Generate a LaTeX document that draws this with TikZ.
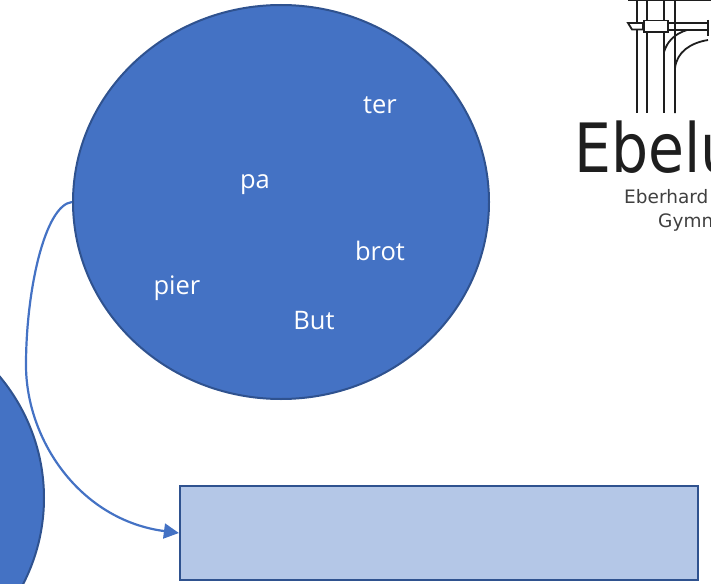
\documentclass[tikz,border=0pt]{standalone}
\usepackage{fontspec}
\setmainfont{Open Sans}
\newfontfamily\logoface[FakeStretch=0.86]{DejaVu Sans}
\newfontfamily\logosubface{DejaVu Sans}
\usetikzlibrary{arrows.meta,shapes.geometric}
\definecolor{fillblue}{HTML}{4472C4}
\definecolor{edgeblue}{HTML}{2F528F}
\definecolor{paleblue}{HTML}{B4C7E7}
\definecolor{logoink}{HTML}{1E1E1E}
\tikzset{
  bubble/.style={ellipse,draw=edgeblue,fill=fillblue,line width=2pt,inner sep=0pt,minimum width=416pt,minimum height=394pt},
  word/.style={text=white,font=\fontsize{25.5}{27}\selectfont,inner sep=0pt},
  logoline/.style={draw=logoink,line width=1.8pt},
  logotext/.style={anchor=base west,inner sep=0pt},
  link/.style={draw=fillblue,line width=2.2pt,-{Triangle[length=15pt,width=15pt]}}
}
\begin{document}
\begin{tikzpicture}[x=1pt,y=-1pt]
\useasboundingbox (0,0) rectangle (711,583);
\clip (0,0) rectangle (711,583);
\node[bubble] (main) at (281,202) {};
\node[bubble] (lower) at (-164,498) {};
\node[draw=edgeblue,fill=paleblue,line width=2.2pt,minimum width=518pt,minimum height=94pt,inner sep=0pt] (box) at (439,533) {};
\node[word] (w1) at (380,105) {ter};
\node[word] (w2) at (255,185) {pa};
\node[word] (w3) at (380,251) {brot};
\node[word] (w4) at (177,288) {pier};
\node[word] (w5) at (314,321) {But};
\coordinate (bend) at (26,365);
\path[link] (main.west) .. controls (45,205) and (26,290) .. (bend) .. controls (26,440) and (80,520) .. (box.west);
% logo
\draw[logoline] (628,0.5) -- (711,0.5);
\foreach \x in {637,647,664,675} \draw[logoline] (\x,0) -- (\x,113);
\draw[logoline,fill=white] (628,23) -- (643,23) -- (643,29.5) -- (632,29.5) -- cycle;
\draw[logoline,fill=white] (644,20.5) rectangle (668,32);
\draw[logoline] (668,23) -- (708,23) (668,30) -- (708,30);
\draw[logoline] (708,20) -- (708,36);
\draw[logoline] (664,52) .. controls (667,42) and (674,34) .. (687,30);
\draw[logoline] (675,113) -- (675,68) .. controls (677,52) and (690,43) .. (708,40);
\node[logotext,text=logoink,font=\logoface\fontsize{68}{70}\selectfont] (logotitle) at (574,172) {Ebelu};
\node[logotext,text=logoink!85,font=\logosubface\fontsize{18.5}{20}\selectfont] (logosub) at (624,203) {Eberhard};
\node[logotext,text=logoink!85,font=\logosubface\fontsize{18.5}{20}\selectfont] (logosub2) at (658,227) {Gymn};
\end{tikzpicture}
\end{document}
